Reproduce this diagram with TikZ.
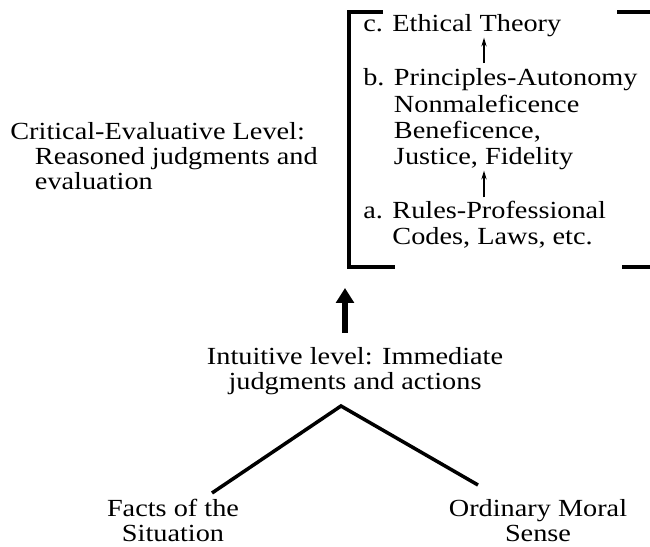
\documentclass[tikz,border=0pt]{standalone}
\usepackage{fontspec}
\setmainfont{Liberation Serif}[FakeStretch=1.15]
\usetikzlibrary{arrows.meta}

\begin{document}
\begin{tikzpicture}[x=0.02cm,y=-0.02cm,
    lbl/.style={inner sep=0pt,align=left,anchor=base west,font=\fontsize{14}{14.3}\selectfont},
    stp/.style={lbl,font=\fontsize{14}{15}\selectfont},
    ctr/.style={inner sep=0pt,align=center,anchor=base,font=\fontsize{14}{14.6}\selectfont},
    brk/.style={line width=2pt},
    thinarr/.style={-{Stealth[length=5pt,width=3pt]},line width=0.7pt},
    bigarr/.style={-{Triangle[length=8.5pt,width=10pt]},line width=3.2pt},
    tree/.style={line width=2pt}]
  \useasboundingbox (0,0) rectangle (650,547);

  %venstre tekst (base = sidste linje)
  	\node[lbl] (crit) at (10,190) {Critical-Evaluative Level:\\\hspace*{1em}Reasoned judgments and\\\hspace*{1em}evaluation};

  %klammen
  	\draw[brk] (383,12) -- (349,12) -- (349,267) -- (395,267);
  	\draw[brk] (617,12) -- (650,12);
  	\draw[brk] (622,267) -- (650,267);

  %trinnene
  	\node[stp] (ethic) at (363,32) {c. Ethical Theory};
  	\node[stp] (princ) at (363,165) {b. Principles-Autonomy\\\phantom{b. }Nonmaleficence\\\phantom{b. }Beneficence,\\\phantom{b. }Justice, Fidelity};
  	\node[stp] (rules) at (363,245) {a. Rules-Professional\\\phantom{a. }Codes, Laws, etc.};
  	\coordinate (mid) at (484,0);
  	\draw[thinarr,shorten <=3pt] (princ.north -| mid) -- (ethic.south -| mid);
  	\draw[thinarr,shorten <=2pt] (rules.north -| mid) -- (princ.south -| mid);

  %intuitivt niveau
  	\node[ctr] (intu) at (355,390) {Intuitive level: Immediate\\judgments and actions};
  	\coordinate (tip) at (345,288);
  	\draw[bigarr,shorten <=8pt] (intu.north -| tip) -- (tip);

  %grenene
  	\node[ctr] (facts) at (173,542) {Facts of the\\Situation};
  	\node[ctr] (sense) at (538,542) {Ordinary Moral\\Sense};
  	\coordinate (apex) at (341,406);
  	\coordinate (lfoot) at (212,493);
  	\coordinate (rfoot) at (478,485);
  	\draw[tree] (lfoot) -- (apex) -- (rfoot);
\end{tikzpicture}
\end{document}
